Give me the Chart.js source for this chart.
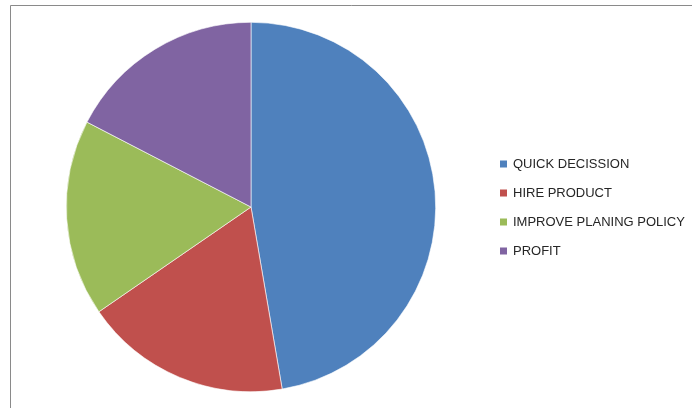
<!DOCTYPE html>
<html>
<head>
<meta charset="utf-8">
<script src="https://cdn.jsdelivr.net/npm/chart.js@4/dist/chart.umd.min.js"></script>
<style>
  html, body { margin: 0; padding: 0; background: #fff; }
  #wrap { width: 692px; height: 408px; position: relative; }
</style>
</head>
<body>
<div id="wrap"><canvas id="c" width="692" height="408"></canvas></div>
<script>
const categories = ['QUICK DECISSION', 'HIRE PRODUCT', 'IMPROVE PLANING POLICY', 'PROFIT'];
const values = [47.3, 18.1, 17.2, 17.4];
const colors = ['#4F81BD', '#C0504D', '#9BBB59', '#8064A2'];

// Frame lines and a vertical legend to the right of the pie
const framePlugin = {
  id: 'frameAndLegend',
  afterDraw(chart) {
    const ctx = chart.ctx;
    ctx.save();
    ctx.strokeStyle = '#8a8a8a';
    ctx.lineWidth = 1;
    ctx.beginPath();
    ctx.moveTo(10.5, 408);
    ctx.lineTo(10.5, 5.5);
    ctx.lineTo(692, 5.5);
    ctx.stroke();

    const ds = chart.data.datasets[0];
    ctx.font = '13px "Liberation Sans", Arial, sans-serif';
    ctx.textBaseline = 'middle';
    chart.data.labels.forEach((label, i) => {
      const y = 164 + i * 29;
      ctx.fillStyle = ds.backgroundColor[i];
      ctx.fillRect(500, y - 3.5, 7, 7);
      ctx.fillStyle = '#262626';
      ctx.fillText(label, 513, y + 0.5);
    });
    ctx.restore();
  }
};

new Chart(document.getElementById('c'), {
  type: 'pie',
  data: {
    labels: categories,
    datasets: [{
      data: values,
      backgroundColor: colors,
      borderColor: '#ffffff',
      borderWidth: 0.6
    }]
  },
  options: {
    responsive: false,
    animation: false,
    layout: { padding: { left: 66, right: 256, top: 22, bottom: 16 } },
    plugins: {
      legend: { display: false },
      tooltip: { enabled: false }
    }
  },
  plugins: [framePlugin]
});
</script>
</body>
</html>
